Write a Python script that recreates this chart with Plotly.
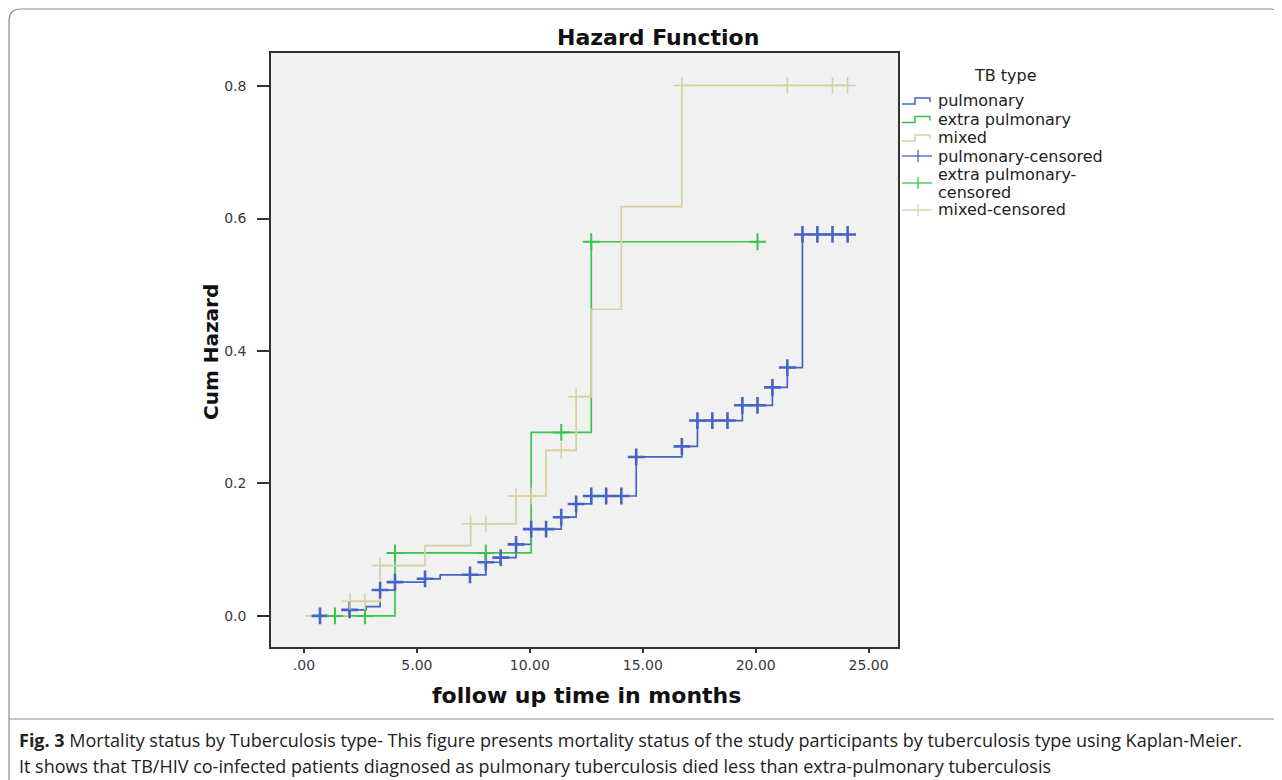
import plotly.graph_objects as go

# ---------------- data ----------------
# step functions: time (months) and cumulative hazard after that time
pul_t = [0.71, 2.02, 2.75, 3.37, 4.03, 5.36, 6.03, 8.05, 8.71, 9.39, 10.06, 11.39,
         12.05, 12.72, 14.71, 16.73, 17.42, 19.41, 20.74, 21.40, 22.07, 24.07]
pul_h = [0.0, 0.009, 0.014, 0.039, 0.051, 0.056, 0.062, 0.081, 0.088, 0.108, 0.131, 0.149,
         0.169, 0.181, 0.240, 0.256, 0.295, 0.318, 0.345, 0.375, 0.576, 0.576]

ext_t = [1.37, 4.03, 10.06, 12.72, 20.08]
ext_h = [0.0, 0.095, 0.277, 0.565, 0.565]

mix_t = [0.05, 2.04, 3.37, 5.36, 7.38, 9.39, 10.72, 12.05, 12.72, 14.05, 16.73, 24.07]
mix_h = [0.0, 0.022, 0.076, 0.106, 0.139, 0.181, 0.250, 0.331, 0.463, 0.618, 0.801, 0.801]

# censored observations
pul_ct = [0.71, 2.02, 3.37, 4.03, 5.36, 7.35, 8.05, 8.71, 9.39, 10.06, 10.72, 11.39, 12.05,
          12.72, 13.38, 14.05, 14.71, 16.73, 17.42, 18.08, 18.75, 19.41, 20.08, 20.74, 21.40,
          22.07, 22.73, 23.40, 24.07]
pul_ch = [0.0, 0.009, 0.039, 0.051, 0.056, 0.062, 0.081, 0.088, 0.108, 0.131, 0.131, 0.149, 0.169,
          0.181, 0.181, 0.181, 0.240, 0.256, 0.295, 0.295, 0.295, 0.318, 0.318, 0.345, 0.375,
          0.576, 0.576, 0.576, 0.576]

ext_ct = [1.37, 2.70, 4.03, 8.05, 11.39, 12.72, 20.08]
ext_ch = [0.0, 0.0, 0.095, 0.095, 0.277, 0.565, 0.565]

mix_ct = [2.04, 2.70, 3.37, 7.38, 8.05, 9.39, 10.06, 11.39, 12.05, 16.73, 21.40, 23.40, 24.07]
mix_ch = [0.022, 0.022, 0.076, 0.139, 0.139, 0.181, 0.181, 0.250, 0.331, 0.801, 0.801, 0.801, 0.801]

x_tickvals = [0, 5, 10, 15, 20, 25]
x_ticktext = [".00", "5.00", "10.00", "15.00", "20.00", "25.00"]
y_tickvals = [0.0, 0.2, 0.4, 0.6, 0.8]
y_ticktext = ["0.0", "0.2", "0.4", "0.6", "0.8"]

legend_title = "TB type"
line_names = ["pulmonary", "extra pulmonary", "mixed"]
cens_names = ["pulmonary-censored", "extra pulmonary-\ncensored", "mixed-censored"]

BLUE = "#4664c6"
GREEN = "#3cc34c"
TAN = "#d8d0a2"
colors = [BLUE, GREEN, TAN]

# ---------------- geometry (page pixels; the page body has an 8px margin) ----------------
OFF = 8
W, H = 1282 - OFF, 780 - OFF
L, R, T, B = 271, 898, 53, 647          # plot area in page pixels


def px(x):
    return (x - L) / (R - L)


def py(y):
    return (B - y) / (B - T)


fig = go.Figure()

for name, t, h, c in zip(line_names, [pul_t, ext_t, mix_t], [pul_h, ext_h, mix_h], colors):
    fig.add_trace(go.Scatter(x=t, y=h, mode="lines", name=name,
                             line=dict(color=c, width=1.7, shape="hv")))

cens_widths = [2.6, 2.0, 1.5]
for name, t, h, c, w in zip(cens_names, [pul_ct, ext_ct, mix_ct], [pul_ch, ext_ch, mix_ch],
                            colors, cens_widths):
    fig.add_trace(go.Scatter(x=t, y=h, mode="markers", name=name.replace("\n", " "),
                             marker=dict(symbol="cross-thin", size=12,
                                         line=dict(color=c, width=w))))

axis_font = dict(family="DejaVu Sans", size=14, color="#3a3a3a")

fig.update_xaxes(range=[-1.46, 26.3], tickvals=x_tickvals, ticktext=x_ticktext,
                 showgrid=False, zeroline=False, showline=True, mirror=True,
                 linecolor="#333333", linewidth=1.5, ticks="outside", ticklen=4,
                 tickcolor="#333333", tickwidth=1.5, tickfont=axis_font)
fig.update_yaxes(range=[-0.047, 0.85], tickvals=y_tickvals, ticktext=y_ticktext,
                 showgrid=False, zeroline=False, showline=True, mirror=True,
                 linecolor="#333333", linewidth=1.5, ticks="outside", ticklen=12,
                 tickcolor="#333333", tickwidth=1.5, tickfont=axis_font,
                 ticklabelstandoff=8)

dark = "#111111"
annotations = [
    dict(text="<b>Hazard Function</b>", x=px(658), y=py(38), xref="paper", yref="paper",
         showarrow=False, font=dict(family="DejaVu Sans", size=22, color=dark),
         xanchor="center", yanchor="middle"),
    dict(text="<b>Cum Hazard</b>", x=px(211), y=py(352), xref="paper", yref="paper",
         showarrow=False, textangle=-90, font=dict(family="DejaVu Sans", size=20, color=dark),
         xanchor="center", yanchor="middle"),
    dict(text="<b>follow up time in months</b>", x=px(586), y=py(696), xref="paper", yref="paper",
         showarrow=False, font=dict(family="DejaVu Sans", size=22, color=dark),
         xanchor="center", yanchor="middle"),
    dict(text="<b>Fig. 3</b> Mortality status by Tuberculosis type- This figure presents mortality status "
              "of the study participants by tuberculosis type using Kaplan-Meier.",
         x=px(17), y=py(740), xref="paper", yref="paper", showarrow=False,
         font=dict(family="Open Sans", size=18, color="#222222"), xanchor="left", yanchor="middle"),
    dict(text="It shows that TB/HIV co-infected patients diagnosed as pulmonary tuberculosis died less "
              "than extra-pulmonary tuberculosis",
         x=px(17), y=py(766), xref="paper", yref="paper", showarrow=False,
         font=dict(family="Open Sans", size=18, color="#222222"), xanchor="left", yanchor="middle"),
]

# outer rounded frame and caption separator
r = 12
x0, x1, y0, y1 = 9, 1281, 9, 780
path = (f"M {px(x0)},{py(y1)} L {px(x0)},{py(y0 + r)} "
        f"Q {px(x0)},{py(y0)} {px(x0 + r)},{py(y0)} "
        f"L {px(x1 - r)},{py(y0)} Q {px(x1)},{py(y0)} {px(x1)},{py(y0 + r)} "
        f"L {px(x1)},{py(y1)}")
shapes = [
    dict(type="path", path=path, xref="paper", yref="paper",
         line=dict(color="#8c8c8c", width=1.2)),
    dict(type="line", x0=px(x0), x1=px(x1), y0=py(719), y1=py(719), xref="paper", yref="paper",
         line=dict(color="#8c8c8c", width=1)),
]

# ---------------- legend (drawn beside the plot) ----------------
leg_font = dict(family="DejaVu Sans", size=16, color="#222222")
annotations.append(dict(text=legend_title, x=px(1005), y=py(75), xref="paper", yref="paper",
                        showarrow=False, font=leg_font, xanchor="center", yanchor="middle"))
line_rows = [101, 119.5, 138]
for name, c, yy in zip(line_names, colors, line_rows):
    annotations.append(dict(text=name, x=px(936), y=py(yy), xref="paper", yref="paper",
                            showarrow=False, font=leg_font, xanchor="left", yanchor="middle"))
    gpath = (f"M {px(902)},{py(yy + 3)} L {px(915)},{py(yy + 3)} L {px(915)},{py(yy - 3)} "
             f"L {px(930)},{py(yy - 3)} L {px(930)},{py(yy + 1)}")
    shapes.append(dict(type="path", path=gpath, xref="paper", yref="paper",
                       line=dict(color=c, width=1.5)))
cens_rows = [156, 183, 210]
for name, c, yy in zip(cens_names, colors, cens_rows):
    parts = name.split("\n")
    offsets = [0] if len(parts) == 1 else [-9, 9]
    for ptxt, dy in zip(parts, offsets):
        annotations.append(dict(text=ptxt, x=px(936), y=py(yy + dy), xref="paper", yref="paper",
                                showarrow=False, font=leg_font, xanchor="left", yanchor="middle"))
    shapes.append(dict(type="line", x0=px(902), x1=px(932), y0=py(yy), y1=py(yy),
                       xref="paper", yref="paper", line=dict(color=c, width=1.3)))
    shapes.append(dict(type="line", x0=px(918), x1=px(918), y0=py(yy - 6), y1=py(yy + 6),
                       xref="paper", yref="paper", line=dict(color=c, width=1.3)))

fig.update_layout(
    width=W, height=H,
    margin=dict(l=L - OFF, r=W - (R - OFF), t=T - OFF, b=H - (B - OFF), pad=0),
    paper_bgcolor="white", plot_bgcolor="#f1f1f1",
    showlegend=False,
    annotations=annotations, shapes=shapes,
)

fig.write_html("out.html")
